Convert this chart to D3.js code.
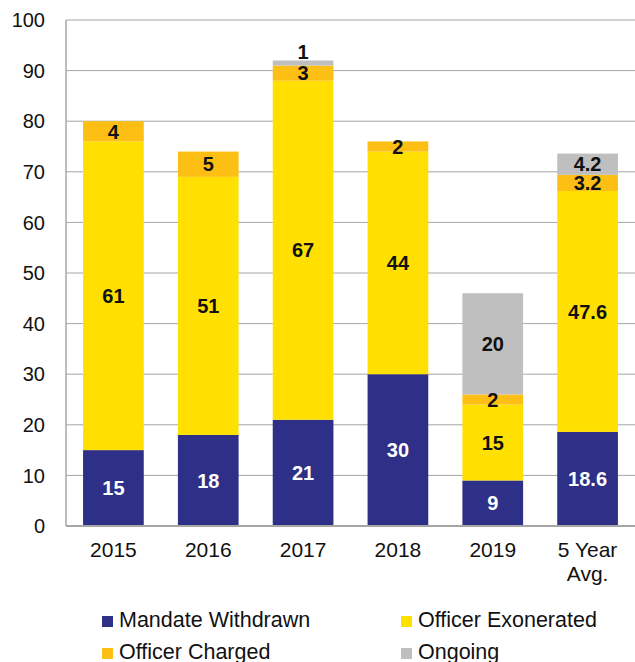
<!DOCTYPE html>
<html>
<head>
<meta charset="utf-8">
<script src="https://d3js.org/d3.v7.min.js"></script>
<style>
  body { margin: 0; background: #fff; }
  svg text { font-family: "Liberation Sans", Arial, sans-serif; }
</style>
</head>
<body>
<svg id="chart" width="635" height="662"></svg>
<script>
// chart data
var categories = ["2015", "2016", "2017", "2018", "2019", "5 Year|Avg."];
var mandateWithdrawn  = [15, 18, 21, 30, 9, 18.6];
var officerExonerated = [61, 51, 67, 44, 15, 47.6];
var officerCharged    = [4, 5, 3, 2, 2, 3.2];
var ongoing           = [0, 0, 1, 0, 20, 4.2];
var yTicks = [0, 10, 20, 30, 40, 50, 60, 70, 80, 90, 100];

var seriesNames = ["Mandate Withdrawn", "Officer Exonerated", "Officer Charged", "Ongoing"];
var seriesColors = ["#2E3087", "#FFE000", "#FDBF13", "#BFBFBF"];
var labelColors = ["#fff", "#111", "#111", "#111"];

var rows = categories.map((c, i) => ({
  cat: c,
  "Mandate Withdrawn": mandateWithdrawn[i],
  "Officer Exonerated": officerExonerated[i],
  "Officer Charged": officerCharged[i],
  "Ongoing": ongoing[i]
}));

var svg = d3.select("#chart");
var margin = {left: 66, right: 0, top: 20, bottom: 136};
var W = 635, H = 662;

var x = d3.scaleBand()
  .domain(categories)
  .range([margin.left, W - margin.right])
  .paddingInner(0.36)
  .paddingOuter(0.18);

var y = d3.scaleLinear()
  .domain([0, 100])
  .range([H - margin.bottom, margin.top]);

// gridlines
svg.append("g")
  .selectAll("line")
  .data(yTicks.slice(1))
  .join("line")
  .attr("x1", margin.left)
  .attr("x2", W)
  .attr("y1", d => y(d))
  .attr("y2", d => y(d))
  .attr("stroke", "#a6a6a6")
  .attr("stroke-width", 1);

// y axis labels
svg.append("g")
  .selectAll("text")
  .data(yTicks)
  .join("text")
  .attr("x", 45)
  .attr("y", d => y(d))
  .attr("dy", "0.36em")
  .attr("text-anchor", "end")
  .attr("font-size", 20)
  .attr("fill", "#111")
  .text(d => d);

var stack = d3.stack().keys(seriesNames)(rows);

// bars
var groups = svg.append("g")
  .selectAll("g")
  .data(stack)
  .join("g")
  .attr("fill", (d, i) => seriesColors[i]);

groups.selectAll("rect")
  .data(d => d.filter(p => p[1] - p[0] > 0))
  .join("rect")
  .attr("x", d => x(d.data.cat))
  .attr("width", x.bandwidth())
  .attr("y", d => y(d[1]))
  .attr("height", d => y(d[0]) - y(d[1]));

// value labels (tiny segments get their label above the bar)
stack.forEach(function(s, si) {
  svg.append("g")
    .selectAll("text")
    .data(s.filter(p => p[1] - p[0] > 0))
    .join("text")
    .attr("x", d => x(d.data.cat) + x.bandwidth() / 2)
    .attr("y", d => (d[1] - d[0]) < 2 ? y(d[1]) - 9 : y((d[0] + d[1]) / 2))
    .attr("dy", "0.36em")
    .attr("text-anchor", "middle")
    .attr("font-size", 20)
    .attr("font-weight", "bold")
    .attr("fill", labelColors[si])
    .text(d => d.data[s.key]);
});

// axes lines
svg.append("line")
  .attr("x1", margin.left).attr("x2", margin.left)
  .attr("y1", y(100)).attr("y2", y(0))
  .attr("stroke", "#a6a6a6").attr("stroke-width", 1.5);
svg.append("line")
  .attr("x1", margin.left).attr("x2", W)
  .attr("y1", y(0)).attr("y2", y(0))
  .attr("stroke", "#a6a6a6").attr("stroke-width", 2);

// x labels
var xl = svg.append("g")
  .selectAll("text")
  .data(categories)
  .join("text")
  .attr("x", d => x(d) + x.bandwidth() / 2)
  .attr("y", 557)
  .attr("text-anchor", "middle")
  .attr("font-size", 21)
  .attr("fill", "#111");
xl.each(function(d) {
  var parts = d.split("|");
  var t = d3.select(this);
  parts.forEach((p, i) => t.append("tspan")
    .attr("x", x(d) + x.bandwidth() / 2)
    .attr("dy", i === 0 ? 0 : 24)
    .text(p));
});

// legend
var legendPos = [[102, 627], [401, 627], [102, 659], [401, 659]];
var lg = svg.append("g")
  .selectAll("g")
  .data(seriesNames)
  .join("g")
  .attr("transform", (d, i) => "translate(" + legendPos[i][0] + "," + legendPos[i][1] + ")");
lg.append("rect")
  .attr("x", 0).attr("y", -11)
  .attr("width", 11).attr("height", 11)
  .attr("fill", (d, i) => seriesColors[i]);
lg.append("text")
  .attr("x", 17).attr("y", 0)
  .attr("font-size", 21.5)
  .attr("fill", "#111")
  .text(d => d);
</script>
</body>
</html>
